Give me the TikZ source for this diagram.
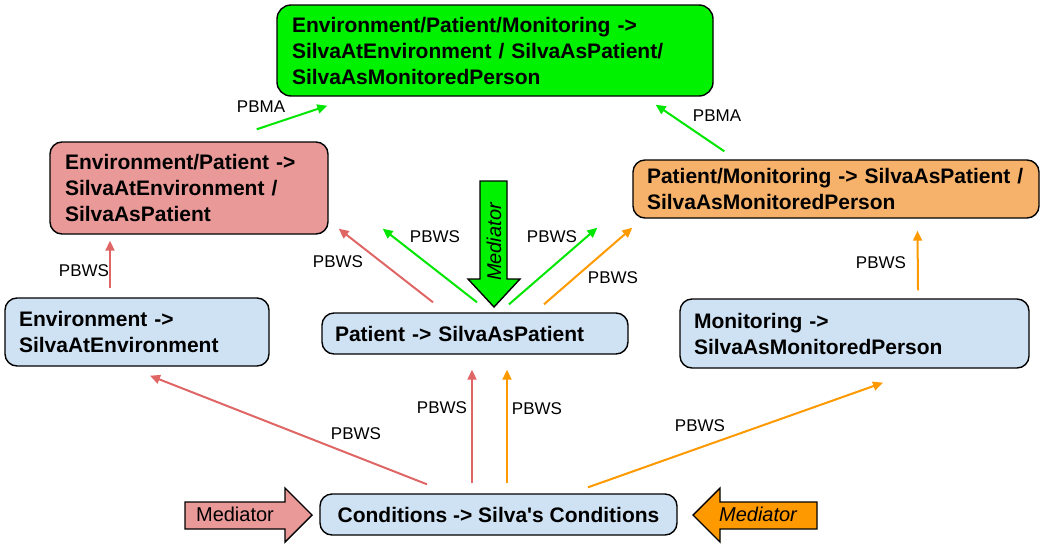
\documentclass[tikz,border=0pt]{standalone}
\usepackage{fontspec}
\setmainfont{Liberation Sans}
\usetikzlibrary{arrows.meta,calc}
\definecolor{boxgreen}{RGB}{0,242,0}
\definecolor{linegreen}{RGB}{0,230,0}
\definecolor{boxred}{RGB}{234,153,153}
\definecolor{linered}{RGB}{224,102,102}
\definecolor{boxorange}{RGB}{246,178,107}
\definecolor{lineorange}{RGB}{255,153,0}
\definecolor{boxblue}{RGB}{207,226,243}
\newcommand\sq{{\XeTeXglyph\XeTeXcharglyph"27\relax}}
\begin{document}
\begin{tikzpicture}[x=1pt,y=-1pt,
  box/.style={draw=black, line width=1.4pt, rounded corners=12pt,
    font=\fontsize{21}{26}\selectfont\bfseries, inner xsep=14pt, inner ysep=0pt},
  lbox/.style={box, align=left},
  cbox/.style={box, align=center},
  conn/.style={line width=2pt, -{Triangle[length=10pt,width=9pt]}},
  lbl/.style={font=\fontsize{17}{20}\selectfont, inner sep=0pt},
  medtext/.style={font=\fontsize{20}{24}\selectfont, inner sep=0pt},
  medshape/.style={draw=black, line width=1.4pt, line join=miter},
]
\useasboundingbox (0,0) rectangle (1040,544);

% boxes
\node[lbox, fill=boxgreen, rounded corners=14pt, inner xsep=15pt, text width=406pt, minimum height=91pt] (G) at (495,50.5)
  {Environment/Patient/Monitoring ->\\SilvaAtEnvironment / SilvaAsPatient/\\SilvaAsMonitoredPerson};
\node[lbox, fill=boxred, inner xsep=15pt, text width=248pt, minimum height=92pt] (R) at (189,188)
  {Environment/Patient ->\\SilvaAtEnvironment /\\SilvaAsPatient};
\node[lbox, fill=boxorange, text width=378pt, minimum height=58pt] (O) at (836,189)
  {Patient/Monitoring -> SilvaAsPatient /\\SilvaAsMonitoredPerson};
\node[lbox, fill=boxblue, text width=236pt, minimum height=68pt] (E) at (137,332)
  {Environment ->\\SilvaAtEnvironment};
\node[lbox, fill=boxblue, inner xsep=13pt, text width=280pt, minimum height=41pt] (P) at (475,333.5)
  {Patient -> SilvaAsPatient};
\node[lbox, fill=boxblue, text width=321pt, minimum height=69pt] (M) at (854.5,333.5)
  {Monitoring ->\\SilvaAsMonitoredPerson};
\node[cbox, fill=boxblue, minimum width=357pt, minimum height=41pt] (C) at (498.5,514.5)
  {Conditions -> Silva\sq s Conditions};

% mediator block arrows
\draw[medshape, fill=boxred] (185,502) -- (285,502) -- (285,488) -- (312,515) -- (285,542) -- (285,529) -- (185,529) -- cycle;
\node[medtext] (ML) at (235,514) {Mediator};
\draw[medshape, fill=lineorange] (817,502) -- (720,502) -- (720,488) -- (693,515) -- (720,542) -- (720,529) -- (817,529) -- cycle;
\node[medtext, font=\fontsize{20}{24}\selectfont\itshape] (MR) at (758,514) {Mediator};
\draw[medshape, fill=boxgreen] (480,181) -- (507,181) -- (507,279) -- (520,279) -- (494,307) -- (468,279) -- (480,279) -- cycle;
\node[medtext, font=\fontsize{20}{24}\selectfont\itshape, rotate=90] (MG) at (494,242) {Mediator};

% connectors
\draw[conn, linegreen] ($(R.north east)+(-72,-12)$) -- ($(G.south west)+(51,9)$);
\node[lbl] (l1) at (261,107) {PBMA};
\draw[conn, linegreen] ($(O.north west)+(92,-8)$) -- ($(G.south east)+(-58,8)$);
\node[lbl] (l2) at (717,116) {PBMA};

\draw[conn, linered] ($(E.north)+(-27,-9)$) -- ($(R.south)+(-79,6)$);
\node[lbl] (l3) at (84,271) {PBWS};
\draw[conn, linered] ($(P.north)+(-42,-10)$) -- ($(R.south east)+(10,-6)$);
\node[lbl] (l4) at (338,262) {PBWS};
\draw[conn, linegreen] ($(P.north)+(2,-10)$) -- ($(R.south east)+(54,-6)$);
\node[lbl] (l5) at (435,237) {PBWS};
\draw[conn, linegreen] ($(P.north)+(34,-8)$) -- ($(O.south west)+(-35,9)$);
\node[lbl] (l6) at (552,237) {PBWS};
\draw[conn, lineorange] ($(P.north)+(69,-8)$) -- ($(O.south west)+(0,9)$);
\node[lbl] (l7) at (613,278) {PBWS};
\draw[conn, lineorange] ($(M.north)+(63.5,-8)$) -- ($(O.south)+(81.5,12)$);
\node[lbl] (l8) at (881,263) {PBWS};

\draw[conn, linered] ($(C.north)+(-71.5,-9)$) -- ($(E.south)+(13,9)$);
\node[lbl] (l9) at (356,434) {PBWS};
\draw[conn, linered] ($(C.north)+(-26.5,-10)$) -- ($(P.south)+(-3,15)$);
\node[lbl] (l10) at (442,408) {PBWS};
\draw[conn, lineorange] ($(C.north)+(8.5,-10)$) -- ($(P.south)+(32,15)$);
\node[lbl] (l11) at (537,409) {PBWS};
\draw[conn, lineorange] ($(C.north)+(89.5,-6)$) -- ($(M.south)+(28.5,14)$);
\node[lbl] (l12) at (700,426) {PBWS};
\end{tikzpicture}
\end{document}
